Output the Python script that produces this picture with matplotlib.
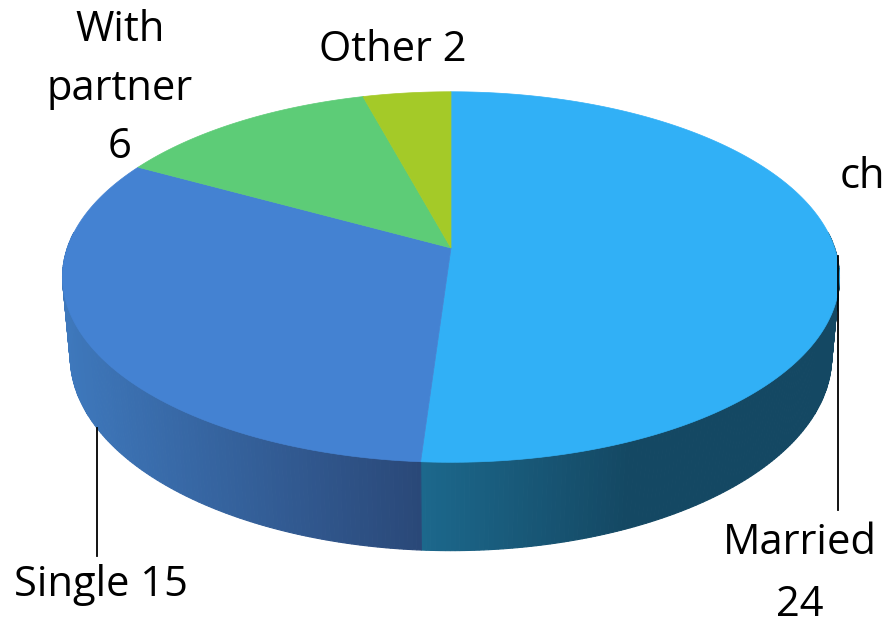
import numpy as np
import matplotlib
matplotlib.use("Agg")
from matplotlib import pyplot as plt
from matplotlib.patches import Polygon

labels = ["Married", "Single", "With partner", "Other"]
values = [24, 15, 6, 2]
top_colors = ["#31b0f6", "#4482d2", "#5dcc77", "#a4ca28"]
# side gradient (left colour, right colour) for slices whose front wall shows
side_colors = {"Married": ((28, 104, 140), (20, 72, 99)),
               "Single": ((62, 120, 188), (42, 72, 120))}

# simple perspective camera, pixel space
x0, y0 = 451, 248          # where the disk centre lands
phi = np.radians(28.1)     # elevation of the camera
dist = 5.63                # camera distance (disk radius = 1)
focal = 2160
thick = 0.238              # disk thickness

plt.rcParams['font.family'] = ['Open Sans', 'DejaVu Sans']
fig = plt.figure(figsize=(8.86, 6.25), dpi=100)
ax = fig.add_axes([0, 0, 1, 1])
ax.set_xlim(0, 886)
ax.set_ylim(625, 0)
ax.axis('off')


def proj(theta, h=0.0):
  # theta in degrees, clockwise from 12 o'clock; h = how far below top face
  t = np.radians(theta)
  X, Z = np.sin(t), np.cos(t)
  w = dist + h * np.sin(phi) + Z * np.cos(phi)
  u = focal * X / w
  v = focal * (Z * np.sin(phi) - h * np.cos(phi)) / w
  return x0 + u, y0 - v


def centre(h=0.0):
  w = dist + h * np.sin(phi)
  return x0, y0 + focal * h * np.cos(phi) / w


total = float(sum(values))
bounds = np.concatenate([[0], np.cumsum(values) / total * 360.0])

# front wall (visible roughly between 90 and 270 deg)
for i, lab in enumerate(labels):
  t0, t1 = max(bounds[i], 85), min(bounds[i + 1], 275)
  if t1 <= t0 or lab not in side_colors:
    continue
  ts = np.linspace(t0, t1, 160)
  xs = [proj(t)[0] for t in ts]
  xmin, xmax = min(xs), max(xs)
  c_left, c_right = side_colors[lab]
  for k in range(len(ts) - 1):
    xa, ya = proj(ts[k])
    xb, yb = proj(ts[k + 1])
    xc, yc = proj(ts[k + 1], thick)
    xd, yd = proj(ts[k], thick)
    f = ((xa + xb) / 2 - xmin) / (xmax - xmin)
    if lab == "Married":
      f = min(1.0, f / 0.5)
    col = [(c_left[j] + (c_right[j] - c_left[j]) * f) / 255 for j in range(3)]
    ax.add_patch(Polygon([(xa, ya), (xb, yb), (xc, yc), (xd, yd)],
                         closed=True, facecolor=col, edgecolor=col, lw=0.8))

# top faces
for i, lab in enumerate(labels):
  ts = np.linspace(bounds[i], bounds[i + 1], 200)
  verts = [centre()] + [proj(t) for t in ts]
  ax.add_patch(Polygon(verts, closed=True, facecolor=top_colors[i],
                       edgecolor=top_colors[i], lw=0.5))

# leader lines
ax.plot([97, 97], [428, 556], color='black', lw=1.3)
ax.plot([838, 838], [256, 510], color='black', lw=1.3)

fs = 30
ax.text(800, 543, labels[0], fontsize=fs, ha='center', va='center')
ax.text(800, 605, str(values[0]), fontsize=fs, ha='center', va='center')
ax.text(101, 585, "%s %d" % (labels[1], values[1]), fontsize=fs, ha='center', va='center')
ax.text(120, 30, "With", fontsize=fs, ha='center', va='center')
ax.text(120, 89, "partner", fontsize=fs, ha='center', va='center')
ax.text(120, 147, str(values[2]), fontsize=fs, ha='center', va='center')
ax.text(393, 50, "%s %d" % (labels[3], values[3]), fontsize=fs, ha='center', va='center')
ax.text(840, 177, "ch", fontsize=fs, ha='left', va='center')

fig.savefig("out.png", dpi=100)
